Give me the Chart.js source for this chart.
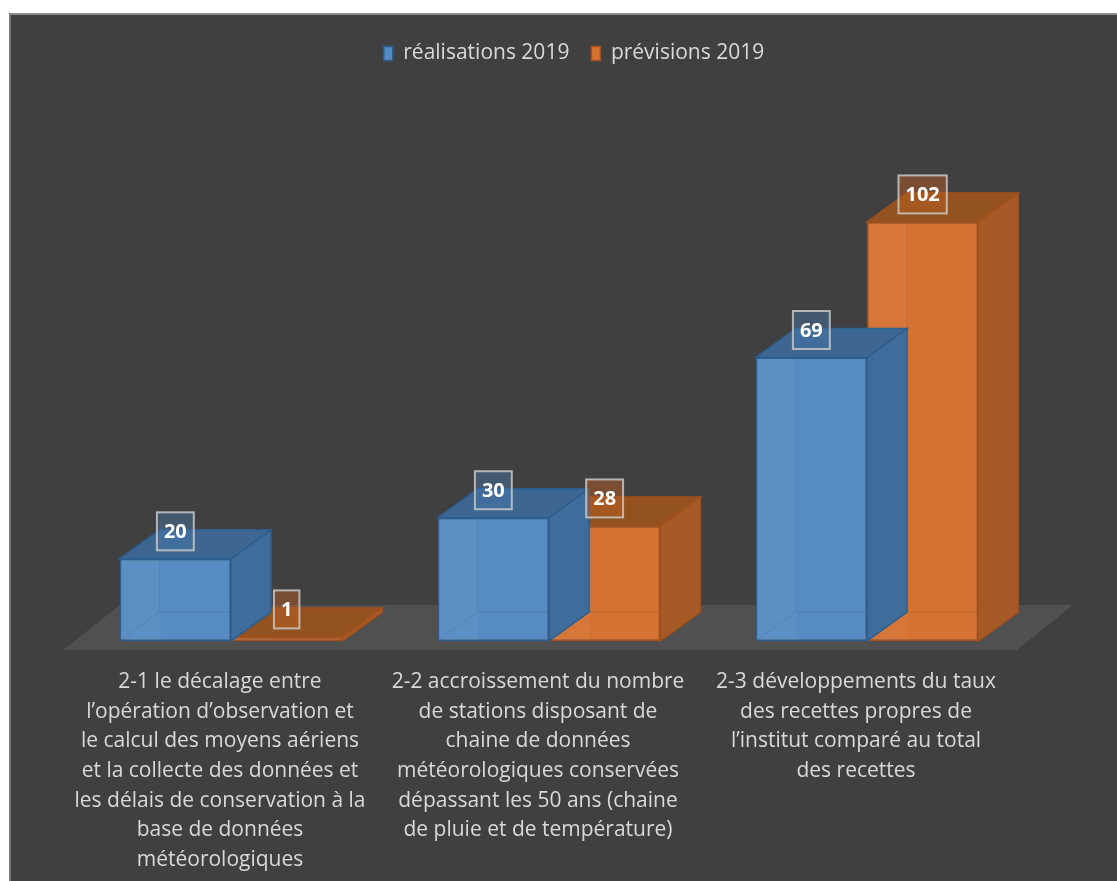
<!DOCTYPE html>
<html>
<head>
<meta charset="utf-8">
<script src="https://cdn.jsdelivr.net/npm/chart.js@4/dist/chart.umd.min.js"></script>
<style>
  html, body { margin: 0; padding: 0; background: #ffffff; }
  #wrap { width: 1117px; height: 881px; }
</style>
</head>
<body>
<div id="wrap"><canvas id="myChart" width="1117" height="881"></canvas></div>
<script>
// categories (already wrapped like in the original)
const categories = [
  ['2-1 le décalage entre', 'l’opération d’observation et', 'le calcul des moyens aériens',
   'et la collecte des données et', 'les délais de conservation à la', 'base de données',
   'météorologiques'],
  ['2-2 accroissement du nombre', 'de stations disposant de', 'chaine de données',
   'météorologiques conservées', 'dépassant les 50 ans (chaine', 'de pluie et de température)'],
  ['2-3 développements du taux', 'des recettes propres de', 'l’institut comparé au total',
   'des recettes']
];
const seriesNames = ['réalisations 2019', 'prévisions 2019'];
const realisations = [20, 30, 69];
const previsions = [1, 28, 102];

const FONT = "'Open Sans', 'Noto Sans', sans-serif";
const depth = { dx: 40, dy: -29 };

// front / top / side / edge colours for each series
const faces = [
  { front: '#568cc3', top: '#3d6791', side: '#3f6d9b', edge: '#2c5e8f', label: 'rgba(70,120,170,0.45)' },
  { front: '#d57231', top: '#93521f', side: '#a65b26', edge: '#a4501a', label: 'rgba(190,95,35,0.45)' }
];

function poly(ctx, pts, fill, stroke) {
  ctx.beginPath();
  ctx.moveTo(pts[0][0], pts[0][1]);
  for (let i = 1; i < pts.length; i++) ctx.lineTo(pts[i][0], pts[i][1]);
  ctx.closePath();
  if (fill) { ctx.fillStyle = fill; ctx.fill(); }
  if (stroke) { ctx.strokeStyle = stroke; ctx.lineWidth = 1.5; ctx.stroke(); }
}

const panel3d = {
  id: 'panel3d',
  afterLayout(chart) {
    // legend sits a bit right of the plot centre in the original
    chart.legend.left += 25;
    chart.legend.right += 25;
  },
  beforeDraw(chart) {
    const ctx = chart.ctx;
    ctx.save();
    ctx.fillStyle = '#ffffff';
    ctx.fillRect(0, 0, chart.width, chart.height);
    ctx.fillStyle = '#404040';
    ctx.fillRect(9, 13, chart.width - 9, chart.height - 13);
    ctx.fillStyle = '#8c8c8c';
    ctx.fillRect(9, 13, chart.width - 9, 2);
    ctx.fillStyle = '#7a7a7a';
    ctx.fillRect(9, 13, 2, chart.height - 13);
    ctx.restore();
  },
  beforeDatasetsDraw(chart) {
    // floor
    const ctx = chart.ctx;
    const a = chart.chartArea;
    const y0 = chart.scales.y.getPixelForValue(0);
    const fy = y0 + 9;
    ctx.save();
    poly(ctx, [[a.left - 9, fy], [a.right - 9, fy], [a.right + 47, fy - 45], [a.left + 48, fy - 45]], '#505050');
    ctx.restore();
  },
  afterDatasetDraw(chart, args) {
    const ctx = chart.ctx;
    const f = faces[args.index];
    ctx.save();
    args.meta.data.forEach(bar => {
      const p = bar.getProps(['x', 'y', 'base', 'width'], true);
      const l = p.x - p.width / 2, r = p.x + p.width / 2;
      const t = p.y, b = p.base;
      // hidden edges seen through the translucent front face
      ctx.fillStyle = 'rgba(255,255,255,0.04)';
      ctx.fillRect(l + 1, t + 1, depth.dx, b - t - 2);
      ctx.strokeStyle = 'rgba(30,30,30,0.12)';
      ctx.lineWidth = 1;
      ctx.beginPath();
      ctx.moveTo(l + depth.dx, t);
      ctx.lineTo(l + depth.dx, b + depth.dy);
      ctx.lineTo(r, b + depth.dy);
      ctx.moveTo(l, b);
      ctx.lineTo(l + depth.dx, b + depth.dy);
      ctx.stroke();
      // side and top faces
      poly(ctx, [[r, t], [r + depth.dx, t + depth.dy], [r + depth.dx, b + depth.dy], [r, b]], f.side, f.edge);
      poly(ctx, [[l, t], [r, t], [r + depth.dx, t + depth.dy], [l + depth.dx, t + depth.dy]], f.top, f.edge);
    });
    ctx.restore();
  },
  afterDatasetsDraw(chart) {
    const ctx = chart.ctx;
    ctx.save();
    ctx.font = 'bold 20px ' + FONT;
    ctx.textAlign = 'center';
    ctx.textBaseline = 'middle';
    chart.data.datasets.forEach((ds, i) => {
      const meta = chart.getDatasetMeta(i);
      meta.data.forEach((bar, j) => {
        const p = bar.getProps(['x', 'y'], true);
        const txt = String(ds.data[j]);
        const w = ctx.measureText(txt).width + 14;
        const h = 38;
        const cx = p.x, cy = p.y - 27.5;
        ctx.fillStyle = faces[i].label;
        ctx.fillRect(cx - w / 2, cy - h / 2, w, h);
        ctx.strokeStyle = 'rgba(200,200,200,0.85)';
        ctx.lineWidth = 2;
        ctx.strokeRect(cx - w / 2, cy - h / 2, w, h);
        ctx.fillStyle = '#ffffff';
        ctx.fillText(txt, cx, cy + 1);
      });
    });
    ctx.restore();
  }
};

const ctx = document.getElementById('myChart');

new Chart(ctx, {
  type: 'bar',
  data: {
    labels: categories,
    datasets: [
      {
        label: seriesNames[0],
        data: realisations,
        backgroundColor: faces[0].front,
        borderColor: faces[0].edge,
        borderWidth: 1.5,
        borderSkipped: false
      },
      {
        label: seriesNames[1],
        data: previsions,
        backgroundColor: faces[1].front,
        borderColor: faces[1].edge,
        borderWidth: 1.5,
        borderSkipped: false
      }
    ]
  },
  options: {
    responsive: false,
    animation: false,
    layout: { padding: { left: 72, right: 91, top: 21, bottom: 0 } },
    categoryPercentage: 0.7,
    barPercentage: 1.0,
    plugins: {
      legend: {
        position: 'top',
        labels: {
          color: '#d9d9d9',
          font: { family: FONT, size: 21 },
          boxWidth: 9,
          boxHeight: 14,
          padding: 22
        }
      },
      tooltip: { enabled: false }
    },
    scales: {
      x: {
        grid: { display: false, drawTicks: false },
        border: { display: false },
        ticks: {
          color: '#d9d9d9',
          font: { family: FONT, size: 21, lineHeight: 1.414 },
          padding: 26,
          labelOffset: -11,
          maxRotation: 0,
          autoSkip: false
        },
        afterFit(scale) { scale.height = 240; }
      },
      y: {
        display: false,
        min: 0,
        max: 138
      }
    }
  },
  plugins: [panel3d]
});
</script>
</body>
</html>
